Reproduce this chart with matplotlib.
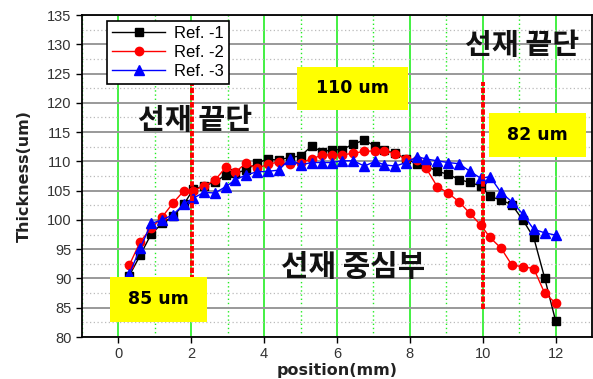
import numpy as np
import matplotlib
matplotlib.use("Agg")
import matplotlib.pyplot as plt
from matplotlib.patches import Rectangle
from matplotlib.ticker import MultipleLocator

# 측정 위치 [mm]
position = [0.3, 0.6, 0.9, 1.2, 1.5, 1.8, 2.05, 2.35, 2.65, 2.95,
            3.2, 3.5, 3.8, 4.1, 4.4, 4.7, 5.0, 5.3, 5.6, 5.85,
            6.15, 6.45, 6.75, 7.05, 7.3, 7.6, 7.9, 8.2, 8.45, 8.75,
            9.05, 9.35, 9.65, 9.95, 10.2, 10.5, 10.8, 11.1, 11.4, 11.7, 12.0]

ref1 = [90.5, 94.0, 97.6, 99.4, 100.6, 102.7, 105.2, 105.8, 106.5, 107.7,
        108.0, 108.5, 109.7, 110.4, 110.2, 110.7, 110.9, 112.6, 111.6, 112.0,
        112.0, 113.0, 113.6, 112.6, 111.9, 111.4, 110.4, 109.6, 109.2, 108.3,
        107.8, 106.9, 106.4, 105.8, 104.0, 103.4, 102.6, 100.0, 97.0, 90.1, 82.8]

ref2 = [92.3, 96.3, 98.6, 100.5, 102.9, 105.0, 105.0, 105.8, 106.8, 109.0,
        108.1, 109.7, 108.8, 109.5, 109.9, 109.5, 109.8, 110.4, 111.1, 111.1,
        111.1, 111.4, 111.7, 111.8, 111.8, 111.3, 110.4, 110.3, 108.8, 105.7,
        104.6, 103.1, 101.1, 99.1, 97.0, 95.2, 92.3, 92.0, 91.7, 87.5, 85.8]

ref3 = [90.8, 95.2, 99.4, 100.0, 100.9, 102.7, 103.7, 104.7, 104.6, 105.7,
        106.8, 107.7, 108.2, 108.3, 108.5, 110.4, 109.4, 109.8, 109.8, 109.8,
        110.1, 110.1, 109.2, 110.0, 109.4, 109.2, 109.8, 110.8, 110.4, 110.1,
        109.8, 109.6, 108.3, 107.1, 107.4, 104.7, 103.1, 101.0, 98.4, 97.8, 97.4]

edge_x = [2.03, 10.0]          # 선재 끝단 경계
boxes = [(-0.22, 82.6, 2.66, 7.7, "85 um"),
         (4.91, 118.8, 3.05, 7.4, "110 um"),
         (10.17, 110.8, 2.67, 7.4, "82 um")]

kr = ["Noto Sans CJK KR", "DejaVu Sans"]

fig = plt.figure(figsize=(5.93, 3.79), dpi=100)
ax = fig.add_axes([0.1383, 0.1108, 0.86, 0.8496])

ax.plot(position, ref1, "s-", color="black", ms=5.5, lw=1, label="Ref. -1", zorder=3)
ax.plot(position, ref2, "o-", color="red", ms=6, lw=1, label="Ref. -2", zorder=3)
ax.plot(position, ref3, "^-", color="blue", ms=6.5, lw=1, label="Ref. -3", zorder=3)

for ex in edge_x:
    ax.plot([ex, ex], [84.8, 123.6], color="red", lw=2.8, ls=(0, (1.4, 0.45)), zorder=4)

for (bx, by, bw, bh, txt) in boxes:
    ax.add_patch(Rectangle((bx, by), bw, bh, facecolor="#ffff00", edgecolor="none", zorder=5))
    ax.text(bx + bw / 2, by + bh / 2, txt, ha="center", va="center",
            fontsize=12.5, fontweight="bold", zorder=6)

ax.text(2.1, 117.1, "선재 끝단", family=kr, fontsize=21, fontweight="bold",
        ha="center", va="center", color="#111111", zorder=6)
ax.text(11.08, 129.9, "선재 끝단", family=kr, fontsize=21, fontweight="bold",
        ha="center", va="center", color="#111111", zorder=6)
ax.text(6.45, 92.0, "선재 중심부", family=kr, fontsize=21.5, fontweight="bold",
        ha="center", va="center", color="#111111", zorder=6)

ax.set_xlim(-1, 13)
ax.set_ylim(80, 135)
ax.xaxis.set_major_locator(MultipleLocator(2))
ax.xaxis.set_minor_locator(MultipleLocator(1))
ax.yaxis.set_major_locator(MultipleLocator(5))
ax.yaxis.set_minor_locator(MultipleLocator(2.5))

ax.grid(which="major", axis="x", color="#22ee22", lw=1.2, ls="-", zorder=0)
ax.grid(which="minor", axis="x", color="#22ee22", lw=1.0, ls=(0, (1, 2)), zorder=0)
ax.grid(which="major", axis="y", color="#999999", lw=1.4, ls="-", zorder=0)
ax.grid(which="minor", axis="y", color="#bbbbbb", lw=0.9, ls=(0, (1, 2)), zorder=0)
ax.set_axisbelow(True)

for s in ax.spines.values():
    s.set_linewidth(1.3)
    s.set_color("black")

ax.tick_params(which="major", direction="out", length=4, width=1,
               labelsize=10.5, labelcolor="#333333")
ax.tick_params(which="minor", length=0)
for lab in ax.get_xticklabels() + ax.get_yticklabels():
    lab.set_family("Liberation Sans")

ax.set_xlabel("position(mm)", fontsize=11.5, fontweight="bold", color="#222222", labelpad=1)
ax.set_ylabel("Thickness(um)", fontsize=11.5, fontweight="bold", color="#222222", labelpad=11)

leg = ax.legend(loc="upper left", bbox_to_anchor=(0.049, 0.982), borderaxespad=0,
                fancybox=False, framealpha=1, edgecolor="black",
                prop={"family": "Liberation Sans", "size": 12},
                handlelength=3.2, borderpad=0.3, labelspacing=0.25, handletextpad=0.5)
leg.get_frame().set_linewidth(1.2)
leg.set_zorder(10)

fig.savefig("out.png", dpi=100)
